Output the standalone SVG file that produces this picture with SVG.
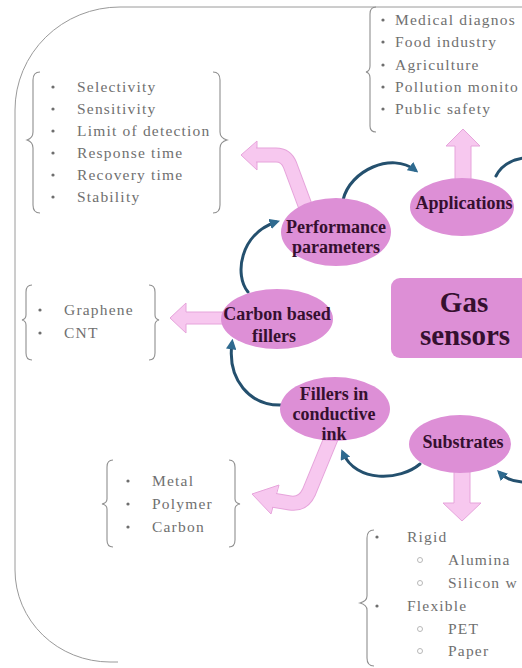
<svg xmlns="http://www.w3.org/2000/svg" width="522" height="668" viewBox="0 0 522 668">
<defs>
<style>
.frame{fill:none;stroke:#9a9a9a;stroke-width:1}
.brace{fill:none;stroke:#8f8f8f;stroke-width:1.1}
.lst{font-family:"Liberation Serif","Times New Roman",serif;font-size:15.5px;fill:#707070;letter-spacing:1.2px}
.bul{fill:#6e6e6e}
.obul{fill:none;stroke:#b8b8b8;stroke-width:1}
.node{fill:#dd8fd6}
.lbl{font-family:"Liberation Serif","Times New Roman",serif;font-weight:bold;font-size:18px;fill:#35102f;text-anchor:middle}
.big{font-size:29px}
.pa{fill:#f7c8ef;stroke:#e6a4db;stroke-width:1}
.pshO{fill:none;stroke:#e6a4db;stroke-width:15;stroke-linejoin:round}
.pshI{fill:none;stroke:#f7c8ef;stroke-width:13;stroke-linejoin:round}
.con{fill:none;stroke:#24506e;stroke-width:3;stroke-linecap:round}
</style>
<marker id="ah" viewBox="0 0 10 10" refX="6" refY="5" markerWidth="3.5" markerHeight="3.5" orient="auto">
<path d="M0,0 L10,5 L0,10 z" fill="#2f6a8f"/>
</marker>
</defs>
<rect width="522" height="668" fill="#ffffff"/>

<g id="frame">
<path class="frame" d="M522 7 L120 7 A105 103 0 0 0 15 110 L15 570 A95 92 0 0 0 110 662 L118 662"/>
</g>

<g id="list-performance">
<path class="brace" d="M40 72 Q33 72 33 80 L33 132 Q33 138 27 140 Q33 142 33 148 L33 205 Q33 213 40 213"/>
<path class="brace" d="M213 72 Q220 72 220 80 L220 132 Q220 138 227 140 Q220 142 220 148 L220 205 Q220 213 213 213"/>
<circle class="bul" cx="53" cy="87" r="1.6"/><text class="lst" x="77" y="92">Selectivity</text>
<circle class="bul" cx="53" cy="109" r="1.6"/><text class="lst" x="77" y="114">Sensitivity</text>
<circle class="bul" cx="53" cy="131" r="1.6"/><text class="lst" x="77" y="136">Limit of detection</text>
<circle class="bul" cx="53" cy="153" r="1.6"/><text class="lst" x="77" y="158">Response time</text>
<circle class="bul" cx="53" cy="175" r="1.6"/><text class="lst" x="77" y="180">Recovery time</text>
<circle class="bul" cx="53" cy="197" r="1.6"/><text class="lst" x="77" y="202">Stability</text>
</g>

<g id="list-applications">
<path class="brace" d="M376 7 Q370 7 370 14 L370 66 Q370 71 366 72 Q370 73 370 78 L370 126 Q370 132 376 132"/>
<circle class="bul" cx="383" cy="20" r="1.6"/><text class="lst" x="395" y="25">Medical diagnos</text>
<circle class="bul" cx="383" cy="42" r="1.6"/><text class="lst" x="395" y="47">Food industry</text>
<circle class="bul" cx="383" cy="65" r="1.6"/><text class="lst" x="395" y="70">Agriculture</text>
<circle class="bul" cx="383" cy="87" r="1.6"/><text class="lst" x="395" y="92">Pollution monito</text>
<circle class="bul" cx="383" cy="109" r="1.6"/><text class="lst" x="395" y="114">Public safety</text>
</g>

<g id="list-carbon">
<path class="brace" d="M32 285 Q26 285 26 292 L26 315 Q26 319 22 320 Q26 321 26 325 L26 353 Q26 360 32 360"/>
<path class="brace" d="M149 285 Q155 285 155 292 L155 315 Q155 319 159 320 Q155 321 155 325 L155 353 Q155 360 149 360"/>
<circle class="bul" cx="40" cy="310" r="1.6"/><text class="lst" x="64" y="315">Graphene</text>
<circle class="bul" cx="40" cy="333" r="1.6"/><text class="lst" x="64" y="338">CNT</text>
</g>

<g id="list-fillers">
<path class="brace" d="M113 460 Q107 460 107 467 L107 499 Q107 503 102 504 Q107 505 107 509 L107 540 Q107 547 113 547"/>
<path class="brace" d="M229 460 Q235 460 235 467 L235 499 Q235 503 240 504 Q235 505 235 509 L235 540 Q235 547 229 547"/>
<circle class="bul" cx="128" cy="481" r="1.6"/><text class="lst" x="152" y="486">Metal</text>
<circle class="bul" cx="128" cy="504" r="1.6"/><text class="lst" x="152" y="509">Polymer</text>
<circle class="bul" cx="128" cy="527" r="1.6"/><text class="lst" x="152" y="532">Carbon</text>
</g>

<g id="list-substrates">
<path class="brace" d="M374 530 Q367 530 367 538 L367 596 Q367 601 360 603 Q367 605 367 610 L367 658 Q367 666 374 666"/>
<circle class="bul" cx="377" cy="537" r="1.6"/><text class="lst" x="407" y="542">Rigid</text>
<circle class="obul" cx="420" cy="560" r="2.5"/><text class="lst" x="448" y="565">Alumina</text>
<circle class="obul" cx="420" cy="583" r="2.5"/><text class="lst" x="448" y="588">Silicon w</text>
<circle class="bul" cx="377" cy="606" r="1.6"/><text class="lst" x="407" y="611">Flexible</text>
<circle class="obul" cx="420" cy="629" r="2.5"/><text class="lst" x="448" y="634">PET</text>
<circle class="obul" cx="420" cy="651" r="2.5"/><text class="lst" x="448" y="656">Paper</text>
</g>

<g id="pink-arrows">
<polygon class="pa" points="257,141 241,155 257,170"/>
<path class="pshO" d="M254 155 L276 155 Q286 155 290 165 L306 208"/>
<path class="pshI" d="M254 155 L276 155 Q286 155 290 165 L306 208"/>
<polygon fill="#f7c8ef" points="256,143 243,155 256,168"/>
<polygon class="pa" points="455,185 455,146 446,146 463,129 480,146 471,146 471,185"/>
<polygon class="pa" points="232,312 186,312 186,303 170,318 186,333 186,324 232,324"/>
<polygon class="pa" points="279,485 252,494 271,514"/>
<path class="pshO" d="M332 436 L309 492 Q303 505 290 503 L272 500"/>
<path class="pshI" d="M332 436 L309 492 Q303 505 290 503 L272 500"/>
<polygon fill="#f7c8ef" points="278,487 255,494 271,511"/>
<polygon class="pa" points="454,465 454,503 443,503 462,521 481,503 470,503 470,465"/>
</g>

<g id="connectors">
<path class="con" marker-end="url(#ah)" d="M248 292 C234 275 240 234 276 222"/>
<path class="con" marker-end="url(#ah)" d="M343 200 C350 170 392 152 415 170"/>
<path class="con" d="M496 176 C501 166 510 160 524 158"/>
<path class="con" marker-end="url(#ah)" d="M524 482 C514 482 506 479 500 473"/>
<path class="con" marker-end="url(#ah)" d="M420 464 C400 481 356 483 343 453"/>
<path class="con" marker-end="url(#ah)" d="M282 405 C250 406 227 380 232 343"/>
</g>

<g id="node-performance">
<ellipse class="node" cx="336" cy="232" rx="55" ry="34"/>
<text class="lbl" x="336" y="233">Performance</text>
<text class="lbl" x="336" y="253">parameters</text>
</g>
<g id="node-applications">
<ellipse class="node" cx="462" cy="207" rx="52" ry="29"/>
<text class="lbl" x="464" y="209">Applications</text>
</g>
<g id="node-carbon">
<ellipse class="node" cx="277" cy="319" rx="56" ry="30"/>
<text class="lbl" x="277" y="320">Carbon based</text>
<text class="lbl" x="274" y="342">fillers</text>
</g>
<g id="node-gas">
<rect class="node" x="391" y="278" width="150" height="80" rx="9"/>
<text class="lbl big" x="464" y="312">Gas</text>
<text class="lbl big" x="465" y="345">sensors</text>
</g>
<g id="node-fillers">
<ellipse class="node" cx="335" cy="409" rx="55" ry="32"/>
<text class="lbl" x="334" y="400">Fillers in</text>
<text class="lbl" x="334" y="420">conductive</text>
<text class="lbl" x="334" y="440">ink</text>
</g>
<g id="node-substrates">
<ellipse class="node" cx="460" cy="444" rx="51" ry="29"/>
<text class="lbl" x="463" y="448">Substrates</text>
</g>
</svg>
